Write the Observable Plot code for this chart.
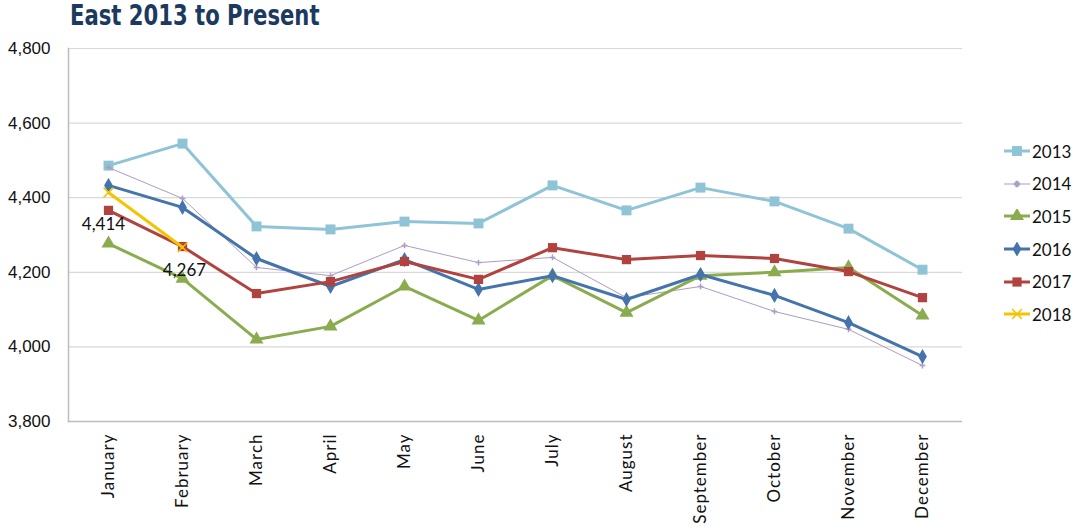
<!DOCTYPE html>
<html>
<head>
<meta charset="utf-8">
<script src="https://cdn.jsdelivr.net/npm/d3@7"></script>
<script src="https://cdn.jsdelivr.net/npm/@observablehq/plot@0.6"></script>
<style>
  html, body { margin: 0; padding: 0; background: #fff; }
  #wrap { position: relative; width: 1074px; height: 526px; overflow: hidden; }
  #title { position: absolute; left: 70px; top: 0px; height: 32px; line-height: 32px;
    font-family: "DejaVu Sans Condensed", "Liberation Sans", sans-serif;
    font-weight: bold; font-size: 28px; color: #1c3a5f; white-space: nowrap;
    transform: scaleX(0.84); transform-origin: left center; }
  #chart { position: absolute; left: 0; top: 32px; }
  #legend { position: absolute; left: 1003px; top: 135px; font-family: Lato, "Open Sans", sans-serif; font-size: 17px; color: #111; }
  .li { height: 32.6px; display: flex; align-items: center; }
  .li svg { margin-right: 1px; }
  #chart svg g[aria-label="x-axis tick label"] text { letter-spacing: 1px; }
</style>
</head>
<body>
<div id="wrap">
  <div id="title">East 2013 to Present</div>
  <div id="chart"></div>
  <div id="legend"></div>
</div>
<script>
const months = ["January","February","March","April","May","June","July","August","September","October","November","December"];
const years = ["2013","2014","2015","2016","2017","2018"];
const v2013 = [4486, 4545, 4323, 4315, 4336, 4331, 4433, 4366, 4427, 4390, 4317, 4207];
const v2014 = [4481, 4398, 4213, 4191, 4272, 4226, 4240, 4132, 4162, 4095, 4047, 3950];
const v2015 = [4277, 4183, 4020, 4055, 4162, 4071, 4191, 4092, 4191, 4200, 4213, 4084];
const v2016 = [4433, 4374, 4237, 4162, 4234, 4154, 4191, 4127, 4194, 4138, 4065, 3974];
const v2017 = [4366, 4269, 4143, 4175, 4229, 4181, 4266, 4234, 4245, 4237, 4202, 4132];
const v2018 = [4414, 4267];
const yTicks = [3800, 4000, 4200, 4400, 4600, 4800];

const seriesValues = {"2013": v2013, "2014": v2014, "2015": v2015, "2016": v2016, "2017": v2017, "2018": v2018};
const colors = {"2013": "#8fc4d7", "2014": "#ab9cc2", "2015": "#8bac4e", "2016": "#4474ab", "2017": "#b0423f", "2018": "#f5c400"};
const symbols = {"2013": "square", "2014": "plus", "2015": "triangle", "2016": "diamond", "2017": "square", "2018": "times"};
const widths = {"2013": 3, "2014": 1, "2015": 3, "2016": 3, "2017": 3, "2018": 3};
const radii = {"2013": 5.6, "2014": 2, "2015": 5.2, "2016": 4.6, "2017": 5.2, "2018": 4.5};

const rows = years.flatMap(yr => seriesValues[yr].map((v, i) => ({year: yr, month: months[i], value: v})));
const labels = rows.filter(d => d.year === "2018");

const marks = [
  Plot.gridY(yTicks, {stroke: "#d9d9d9", strokeOpacity: 1, strokeWidth: 1.2}),
  Plot.ruleY([3800], {stroke: "#bdbdbd", strokeWidth: 1.5}),
  Plot.axisY({ticks: yTicks, label: null, tickSize: 0, tickPadding: 18, tickFormat: d3.format(","), fontSize: 17,
    fontFamily: "'Liberation Sans Narrow', 'Liberation Sans', sans-serif", fill: "#111"}),
  Plot.axisX({label: null, tickSize: 0, tickPadding: 12, tickRotate: -90, fontSize: 17, fill: "#111",
    fontFamily: "Lato, 'Open Sans', sans-serif"})
];
for (const yr of years) {
  const data = rows.filter(d => d.year === yr);
  marks.push(Plot.line(data, {x: "month", y: "value", stroke: colors[yr], strokeWidth: widths[yr], curve: "linear"}));
  const sym = symbols[yr];
  const filled = !(sym === "plus" || sym === "times");
  marks.push(Plot.dot(data, {x: "month", y: "value", symbol: () => sym, r: radii[yr],
    fill: filled ? colors[yr] : "none", stroke: colors[yr], strokeWidth: filled ? 0 : 1.5}));
}
marks.push(Plot.text(labels, {x: "month", y: "value", text: d => d3.format(",")(d.value),
  fontSize: 17, fill: "#111", fontFamily: "Lato, 'Open Sans', sans-serif",
  filter: d => d.month === "January", dx: -5, dy: 32}));
marks.push(Plot.text(labels, {x: "month", y: "value", text: d => d3.format(",")(d.value),
  fontSize: 17, fill: "#111", fontFamily: "Lato, 'Open Sans', sans-serif",
  filter: d => d.month === "February", dx: 2, dy: 23}));

const chart = Plot.plot({
  width: 1074,
  height: 494,
  marginLeft: 68,
  marginRight: 112,
  marginTop: 16,
  marginBottom: 105,
  style: {fontFamily: "Lato, sans-serif", background: "white", overflow: "visible"},
  x: {type: "point", domain: months, padding: 0.5, axis: null},
  y: {domain: [3800, 4800], axis: null},
  symbol: {type: "identity"},
  marks: [
    ...marks,
    Plot.frame({anchor: "left", stroke: "#bdbdbd", strokeWidth: 1.5})
  ]
});
document.getElementById("chart").appendChild(chart);

// legend
const legend = document.getElementById("legend");
const symMap = {square: d3.symbolSquare, plus: d3.symbolCross, triangle: d3.symbolTriangle, diamond: d3.symbolDiamond, times: d3.symbolTimes};
for (const yr of years) {
  const div = document.createElement("div");
  div.className = "li";
  const sw = d3.create("svg").attr("width", 28).attr("height", 14);
  sw.append("line").attr("x1", 1).attr("x2", 27).attr("y1", 7).attr("y2", 7)
    .attr("stroke", colors[yr]).attr("stroke-width", widths[yr]);
  const r = radii[yr];
  const sym = symbols[yr];
  const filled = !(sym === "plus" || sym === "times");
  sw.append("path").attr("transform", "translate(14,7)")
    .attr("d", d3.symbol(symMap[sym], Math.PI * r * r)())
    .attr("fill", filled ? colors[yr] : "none").attr("stroke", filled ? "none" : colors[yr]).attr("stroke-width", 1.5);
  div.appendChild(sw.node());
  const t = document.createElement("span");
  t.textContent = yr;
  div.appendChild(t);
  legend.appendChild(div);
}
</script>
</body>
</html>
